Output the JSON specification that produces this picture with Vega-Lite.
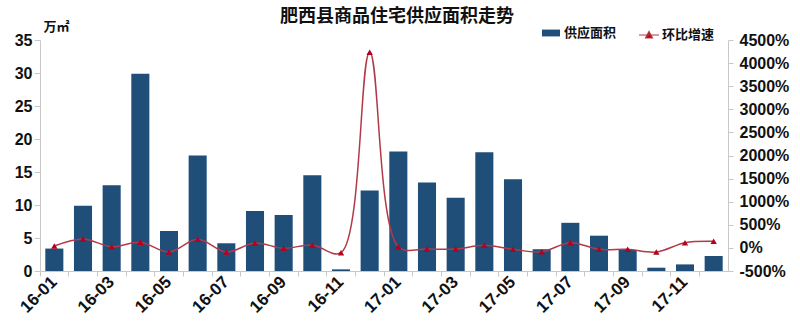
{
  "$schema": "https://vega.github.io/schema/vega-lite/v6.json",
  "width": 688,
  "height": 231,
  "autosize": {"type": "none"},
  "padding": {"left": 40, "top": 40, "right": 72, "bottom": 59},
  "background": "white",
  "title": {
    "text": "肥西县商品住宅供应面积走势",
    "font": "Noto Sans CJK SC",
    "fontSize": 18,
    "fontWeight": "bold",
    "color": "#111111",
    "anchor": "middle",
    "frame": "group",
    "dx": 13,
    "offset": -6
  },
  "data": {
    "values": [
      {"month": "16-01", "area": 3.4, "growth": 41},
      {"month": "16-02", "area": 9.9, "growth": 193},
      {"month": "16-03", "area": 13.0, "growth": 26},
      {"month": "16-04", "area": 29.9, "growth": 121},
      {"month": "16-05", "area": 6.06, "growth": -89},
      {"month": "16-06", "area": 17.5, "growth": 186},
      {"month": "16-07", "area": 4.2, "growth": -89},
      {"month": "16-08", "area": 9.1, "growth": 106},
      {"month": "16-09", "area": 8.5, "growth": -9},
      {"month": "16-10", "area": 14.5, "growth": 63},
      {"month": "16-11", "area": 0.25, "growth": -104},
      {"month": "16-12", "area": 12.2, "growth": 4233},
      {"month": "17-01", "area": 18.1, "growth": 26},
      {"month": "17-02", "area": 13.4, "growth": -24},
      {"month": "17-03", "area": 11.1, "growth": -24},
      {"month": "17-04", "area": 18.0, "growth": 56},
      {"month": "17-05", "area": 13.9, "growth": -30},
      {"month": "17-06", "area": 3.3, "growth": -82},
      {"month": "17-07", "area": 7.3, "growth": 113},
      {"month": "17-08", "area": 5.35, "growth": -30},
      {"month": "17-09", "area": 3.2, "growth": -30},
      {"month": "17-10", "area": 0.5, "growth": -89},
      {"month": "17-11", "area": 1.0, "growth": 113},
      {"month": "17-12", "area": 2.27, "growth": 143}
    ]
  },
  "encoding": {
    "x": {
      "field": "month",
      "type": "ordinal",
      "sort": null,
      "scale": {"paddingInner": 0, "paddingOuter": 0},
      "axis": {
        "title": null,
        "bandPosition": 0,
        "labelAngle": -45,
        "labelAlign": "right",
        "labelBaseline": "middle",
        "labelExpr": "toNumber(slice(datum.value, 3)) % 2 == 1 ? datum.value : ''",
        "labelFont": "Liberation Sans",
        "labelFontSize": 17,
        "labelFontWeight": "bold",
        "labelColor": "#111111",
        "labelPadding": 3,
        "labelOverlap": false,
        "domainColor": "#c8c8c8",
        "tickColor": "#c8c8c8",
        "tickSize": 5,
        "grid": false
      }
    }
  },
  "layer": [
    {
      "mark": {"type": "bar", "width": {"band": 0.63}, "color": "#1f4e79"},
      "encoding": {
        "y": {
          "field": "area",
          "type": "quantitative",
          "scale": {"domain": [0, 35], "nice": false},
          "axis": {
            "title": "万㎡",
            "titleAngle": 0,
            "titleAlign": "left",
            "titleBaseline": "bottom",
            "titleX": 3,
            "titleY": -7,
            "titleFont": "Noto Sans CJK SC",
            "titleFontSize": 13,
            "titleFontWeight": "bold",
            "titleColor": "#111111",
            "values": [0, 5, 10, 15, 20, 25, 30, 35],
            "labelFont": "Liberation Sans",
            "labelFontSize": 16,
            "labelFontWeight": "bold",
            "labelColor": "#111111",
            "labelPadding": 2,
            "domainColor": "#c8c8c8",
            "tickColor": "#c8c8c8",
            "tickSize": 6,
            "grid": false
          }
        },
        "fill": {
          "datum": "供应面积",
          "type": "nominal",
          "scale": {"domain": ["供应面积"], "range": ["#1f4e79"]},
          "legend": {
            "title": null,
            "orient": "none",
            "legendX": 502,
            "legendY": -16,
            "padding": 0,
            "symbolType": "M-1,-0.38H1V0.38H-1Z",
            "symbolSize": 324,
            "symbolStrokeWidth": 0,
            "labelFont": "Noto Sans CJK SC",
            "labelFontSize": 13,
            "labelFontWeight": "bold",
            "labelColor": "#111111",
            "labelOffset": 4
          }
        }
      }
    },
    {
      "mark": {"type": "line", "interpolate": "catmull-rom", "strokeWidth": 1.5},
      "encoding": {
        "y": {
          "field": "growth",
          "type": "quantitative",
          "scale": {"domain": [-500, 4500], "nice": false},
          "axis": {
            "title": null,
            "orient": "right",
            "values": [-500, 0, 500, 1000, 1500, 2000, 2500, 3000, 3500, 4000, 4500],
            "labelExpr": "datum.value + '%'",
            "labelFont": "Liberation Sans",
            "labelFontSize": 16,
            "labelFontWeight": "bold",
            "labelColor": "#111111",
            "labelPadding": 6,
            "domainColor": "#c8c8c8",
            "tickColor": "#c8c8c8",
            "tickSize": 5,
            "grid": false
          }
        },
        "stroke": {
          "datum": "环比增速",
          "type": "nominal",
          "scale": {"domain": ["环比增速"], "range": ["#b03a48"]},
          "legend": {
            "title": null,
            "orient": "none",
            "legendX": 598,
            "legendY": -16,
            "padding": 0,
            "symbolType": "M-1,0H1M-0.35,0.3L0,-0.35L0.35,0.3Z",
            "symbolSize": 400,
            "symbolFillColor": "#c00000",
            "symbolStrokeWidth": 1.2,
            "labelFont": "Noto Sans CJK SC",
            "labelFontSize": 13,
            "labelFontWeight": "bold",
            "labelColor": "#111111",
            "labelOffset": 2
          }
        }
      }
    },
    {
      "mark": {"type": "point", "shape": "triangle-up", "filled": true, "size": 40, "color": "#b5001e", "opacity": 1},
      "encoding": {
        "y": {"field": "growth", "type": "quantitative", "scale": {"domain": [-500, 4500], "nice": false}, "axis": null}
      }
    }
  ],
  "resolve": {"scale": {"y": "independent"}, "axis": {"y": "independent"}},
  "config": {"view": {"stroke": null}}
}
